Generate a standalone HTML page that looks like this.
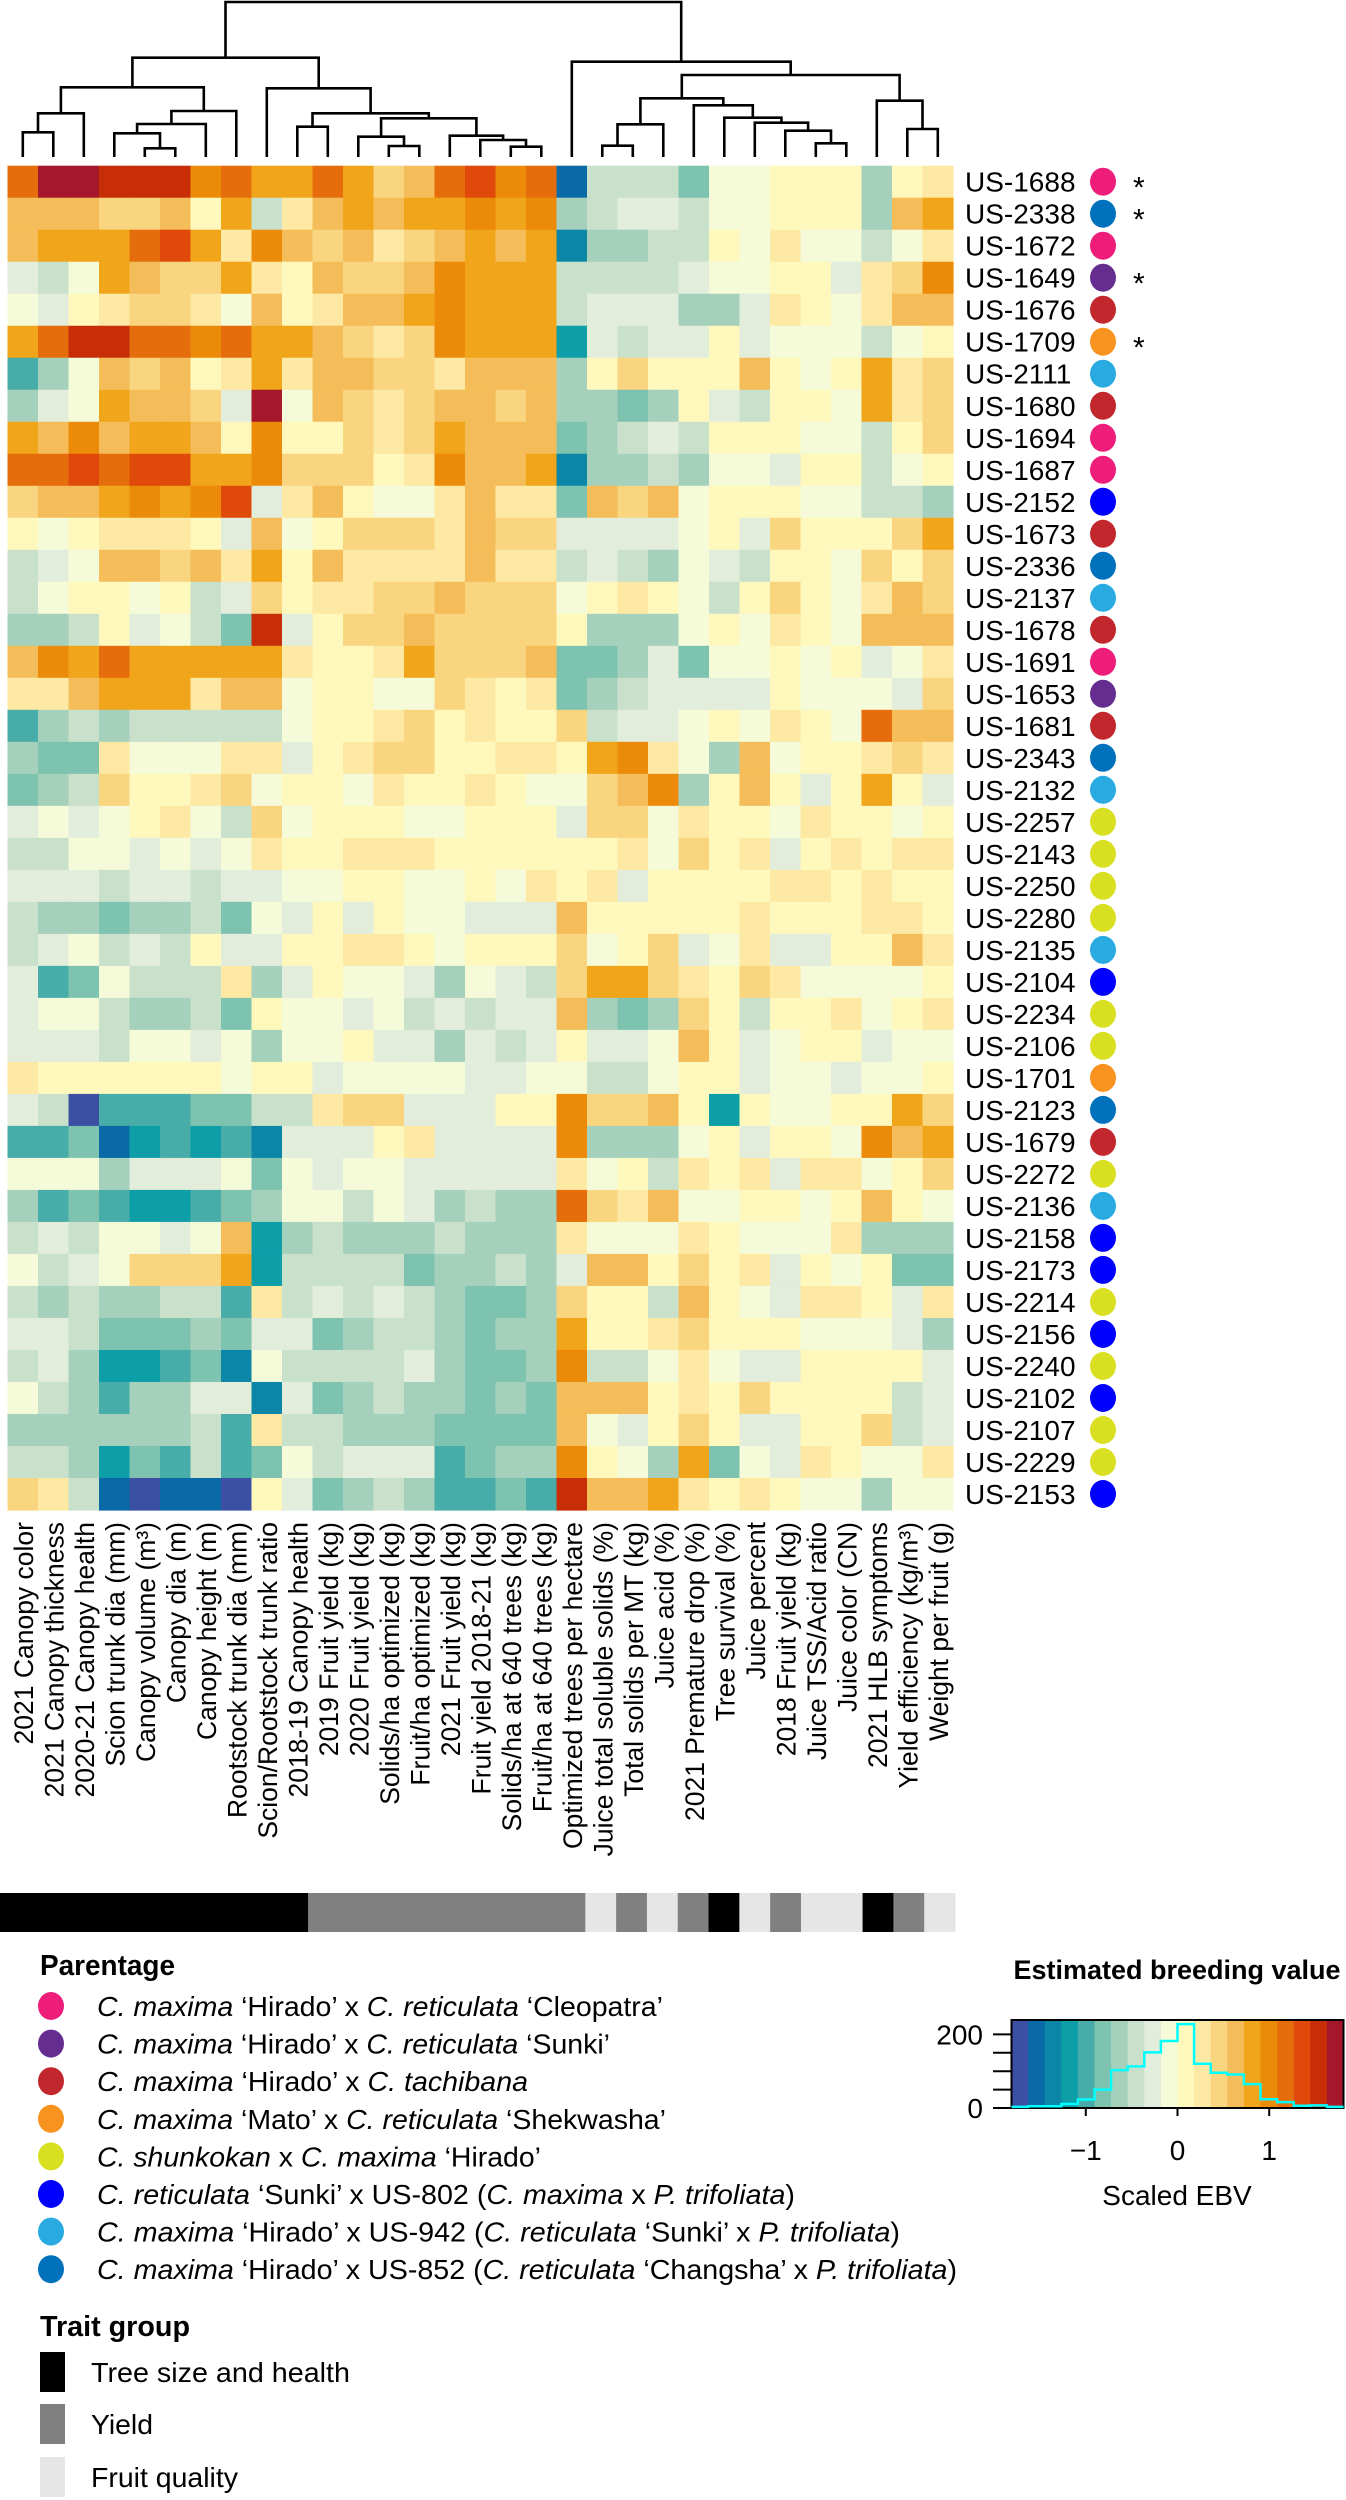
<!DOCTYPE html>
<html>
<head>
<meta charset="utf-8">
<style>
  html,body{margin:0;padding:0;background:#fff;}
  svg{display:block;font-family:"Liberation Sans",Arial,sans-serif;}
</style>
</head>
<body>
<svg id="fig" width="1346" height="2500" viewBox="0 0 1346 2500" xmlns="http://www.w3.org/2000/svg">
  <g id="dendro"></g>
  <g id="heat"></g>
  <g id="rowlabels"></g>
  <g id="collabels"></g>
  <g id="traitbar"></g>
  <g id="legend"></g>
  <g id="traitlegend"></g>
  <g id="key"></g>
</svg>
<script>
const traits = ["2021 Canopy color","2021 Canopy thickness","2020-21 Canopy health","Scion trunk dia (mm)","Canopy volume (m³)","Canopy dia (m)","Canopy height (m)","Rootstock trunk dia (mm)","Scion/Rootstock trunk ratio","2018-19 Canopy health","2019 Fruit yield (kg)","2020 Fruit yield (kg)","Solids/ha optimized (kg)","Fruit/ha optimized (kg)","2021 Fruit yield (kg)","Fruit yield 2018-21 (kg)","Solids/ha at 640 trees (kg)","Fruit/ha at 640 trees (kg)","Optimized trees per hectare","Juice total soluble solids (%)","Total solids per MT (kg)","Juice acid (%)","2021 Premature drop (%)","Tree survival (%)","Juice percent","2018 Fruit yield (kg)","Juice TSS/Acid ratio","Juice color (CN)","2021 HLB symptoms","Yield efficiency (kg/m³)","Weight per fruit (g)"];
const traitGroup = [0,0,0,0,0,0,0,0,0,0,1,1,1,1,1,1,1,1,1,2,1,2,1,0,2,1,2,2,0,1,2];
const genotypes = ["US-1688","US-2338","US-1672","US-1649","US-1676","US-1709","US-2111","US-1680","US-1694","US-1687","US-2152","US-1673","US-2336","US-2137","US-1678","US-1691","US-1653","US-1681","US-2343","US-2132","US-2257","US-2143","US-2250","US-2280","US-2135","US-2104","US-2234","US-2106","US-1701","US-2123","US-1679","US-2272","US-2136","US-2158","US-2173","US-2214","US-2156","US-2240","US-2102","US-2107","US-2229","US-2153"];
const parentage = [0,7,0,1,2,3,6,2,0,0,5,2,7,6,2,0,1,2,7,6,4,4,4,4,6,5,4,4,3,7,2,4,6,5,5,4,5,4,5,4,4,5];
const starred = ["US-1688","US-2338","US-1649","US-1709"];
const ebv = [
[1.18,1.72,1.72,1.54,1.54,1.54,1.00,1.18,0.82,0.82,1.18,0.82,0.45,0.63,1.18,1.36,1.00,1.18,-1.54,-0.45,-0.45,-0.45,-0.82,-0.09,-0.09,0.09,0.09,0.09,-0.63,0.09,0.27],
[0.63,0.63,0.63,0.45,0.45,0.63,0.09,0.82,-0.45,0.27,0.63,0.82,0.63,0.82,0.82,1.00,0.82,1.00,-0.63,-0.45,-0.27,-0.27,-0.45,-0.09,-0.09,0.09,0.09,0.09,-0.63,0.63,0.82],
[0.63,0.82,0.82,0.82,1.18,1.36,0.82,0.27,1.00,0.63,0.45,0.63,0.27,0.45,0.63,0.82,0.63,0.82,-1.36,-0.63,-0.63,-0.45,-0.45,0.09,-0.09,0.27,-0.09,-0.09,-0.45,-0.09,0.27],
[-0.27,-0.45,-0.09,0.82,0.63,0.45,0.45,0.82,0.27,0.09,0.63,0.45,0.45,0.63,1.00,0.82,0.82,0.82,-0.45,-0.45,-0.45,-0.45,-0.27,-0.09,-0.09,0.09,0.09,-0.27,0.27,0.45,1.00],
[-0.09,-0.27,0.09,0.27,0.45,0.45,0.27,-0.09,0.63,0.09,0.27,0.63,0.63,0.82,1.00,0.82,0.82,0.82,-0.45,-0.27,-0.27,-0.27,-0.63,-0.63,-0.27,0.27,0.09,-0.09,0.27,0.63,0.63],
[0.82,1.18,1.54,1.54,1.18,1.18,1.00,1.18,0.82,0.82,0.63,0.45,0.27,0.45,1.00,0.82,0.82,0.82,-1.18,-0.27,-0.45,-0.27,-0.27,0.09,-0.27,-0.09,-0.09,-0.09,-0.45,-0.09,0.09],
[-1.00,-0.63,-0.09,0.63,0.45,0.63,0.09,0.27,0.82,0.27,0.63,0.63,0.45,0.45,0.27,0.63,0.63,0.63,-0.63,0.09,0.45,0.09,0.09,0.09,0.63,0.09,-0.09,0.09,0.82,0.27,0.45],
[-0.63,-0.27,-0.09,0.82,0.63,0.63,0.45,-0.27,1.72,-0.09,0.63,0.45,0.27,0.45,0.63,0.63,0.45,0.63,-0.63,-0.63,-0.82,-0.63,0.09,-0.27,-0.45,0.09,0.09,-0.09,0.82,0.27,0.45],
[0.82,0.63,1.00,0.63,0.82,0.82,0.63,0.09,1.00,0.09,0.09,0.45,0.27,0.45,0.82,0.63,0.63,0.63,-0.82,-0.63,-0.45,-0.27,-0.45,0.09,0.09,0.09,-0.09,-0.09,-0.45,0.09,0.45],
[1.18,1.18,1.36,1.18,1.36,1.36,0.82,0.82,1.00,0.45,0.45,0.45,0.09,0.27,1.00,0.63,0.63,0.82,-1.36,-0.63,-0.63,-0.45,-0.63,-0.09,-0.09,-0.27,0.09,0.09,-0.45,-0.09,0.09],
[0.45,0.63,0.63,0.82,1.00,0.82,1.00,1.36,-0.27,0.27,0.63,0.09,-0.09,-0.09,0.27,0.63,0.27,0.27,-0.82,0.63,0.45,0.63,-0.09,0.09,0.09,0.09,-0.09,-0.09,-0.45,-0.45,-0.63],
[0.09,-0.09,0.09,0.27,0.27,0.27,0.09,-0.27,0.63,-0.09,0.09,0.45,0.45,0.45,0.27,0.63,0.45,0.45,-0.27,-0.27,-0.27,-0.27,-0.09,0.09,-0.27,0.45,0.09,0.09,0.09,0.45,0.82],
[-0.45,-0.27,-0.09,0.63,0.63,0.45,0.63,0.27,0.82,0.09,0.63,0.27,0.27,0.27,0.27,0.63,0.27,0.27,-0.45,-0.27,-0.45,-0.63,-0.09,-0.27,-0.45,0.09,0.09,-0.09,0.45,0.09,0.45],
[-0.45,-0.09,0.09,0.09,-0.09,0.09,-0.45,-0.27,0.45,0.09,0.27,0.27,0.45,0.45,0.63,0.45,0.45,0.45,-0.09,0.09,0.27,0.09,-0.09,-0.45,0.09,0.45,0.09,-0.09,0.27,0.63,0.45],
[-0.63,-0.63,-0.45,0.09,-0.27,-0.09,-0.45,-0.82,1.54,-0.27,0.09,0.45,0.45,0.63,0.45,0.45,0.45,0.45,0.09,-0.63,-0.63,-0.63,-0.09,0.09,-0.09,0.27,0.09,-0.09,0.63,0.63,0.63],
[0.63,1.00,0.82,1.18,0.82,0.82,0.82,0.82,0.82,0.27,0.09,0.09,0.27,0.82,0.45,0.45,0.45,0.63,-0.82,-0.82,-0.63,-0.27,-0.82,-0.09,-0.09,0.09,-0.09,0.09,-0.27,-0.09,0.27],
[0.27,0.27,0.63,0.82,0.82,0.82,0.27,0.63,0.63,-0.09,0.09,0.09,-0.09,-0.09,0.45,0.27,0.09,0.27,-0.82,-0.63,-0.45,-0.27,-0.27,-0.27,-0.27,0.09,-0.09,-0.09,-0.09,-0.27,0.45],
[-1.00,-0.63,-0.45,-0.63,-0.45,-0.45,-0.45,-0.45,-0.45,-0.09,0.09,0.09,0.27,0.45,0.09,0.27,0.09,0.09,0.45,-0.45,-0.27,-0.27,-0.09,0.09,-0.09,0.27,0.09,-0.09,1.18,0.63,0.63],
[-0.63,-0.82,-0.82,0.27,-0.09,-0.09,-0.09,0.27,0.27,-0.27,0.09,0.27,0.45,0.45,0.09,0.09,0.27,0.27,0.09,0.82,1.00,0.27,-0.09,-0.63,0.63,-0.09,0.09,0.09,0.27,0.45,0.27],
[-0.82,-0.63,-0.45,0.45,0.09,0.09,0.27,0.45,-0.09,0.09,0.09,-0.09,0.27,0.09,0.09,0.27,0.09,-0.09,-0.09,0.45,0.63,1.00,-0.63,0.09,0.63,0.09,-0.27,0.09,0.82,0.09,-0.27],
[-0.27,-0.09,-0.27,-0.09,0.09,0.27,-0.09,-0.45,0.45,-0.09,0.09,0.09,0.09,-0.09,-0.09,0.09,0.09,0.09,-0.27,0.45,0.45,-0.09,0.27,0.09,0.09,-0.09,0.27,0.09,0.09,-0.09,0.09],
[-0.45,-0.45,-0.09,-0.09,-0.27,-0.09,-0.27,-0.09,0.27,0.09,0.09,0.27,0.27,0.27,0.09,0.09,0.09,0.09,0.09,0.09,0.27,-0.09,0.45,0.09,0.27,-0.27,0.09,0.27,0.09,0.27,0.27],
[-0.27,-0.27,-0.27,-0.45,-0.27,-0.27,-0.45,-0.27,-0.27,-0.09,-0.09,0.09,0.09,-0.09,-0.09,0.09,-0.09,0.27,0.09,0.27,-0.27,0.09,0.09,0.09,0.09,0.27,0.27,0.09,0.27,0.09,0.09],
[-0.45,-0.63,-0.63,-0.82,-0.63,-0.63,-0.45,-0.82,-0.09,-0.27,0.09,-0.27,0.09,-0.09,-0.09,-0.27,-0.27,-0.27,0.63,0.09,0.09,0.09,0.09,0.09,0.27,0.09,0.09,0.09,0.27,0.27,0.09],
[-0.45,-0.27,-0.09,-0.45,-0.27,-0.45,0.09,-0.27,-0.27,0.09,0.09,0.27,0.27,0.09,-0.09,0.09,0.09,0.09,0.45,-0.09,0.09,0.45,-0.27,-0.09,0.27,-0.27,-0.27,0.09,0.09,0.63,0.27],
[-0.27,-1.00,-0.82,-0.09,-0.45,-0.45,-0.45,0.27,-0.63,-0.27,0.09,-0.09,-0.09,-0.27,-0.63,-0.09,-0.27,-0.45,0.45,0.82,0.82,0.45,0.27,0.09,0.45,0.27,-0.09,-0.09,-0.09,-0.09,0.09],
[-0.27,-0.09,-0.09,-0.45,-0.63,-0.63,-0.45,-0.82,0.09,-0.09,-0.09,-0.27,-0.09,-0.45,-0.27,-0.45,-0.27,-0.27,0.63,-0.63,-0.82,-0.63,0.45,0.09,-0.45,0.09,0.09,0.27,-0.09,0.09,0.27],
[-0.27,-0.27,-0.27,-0.45,-0.09,-0.09,-0.27,-0.09,-0.63,-0.09,-0.09,0.09,-0.27,-0.27,-0.63,-0.27,-0.45,-0.27,0.09,-0.27,-0.27,-0.09,0.63,0.09,-0.27,-0.09,0.09,0.09,-0.27,-0.09,-0.09],
[0.27,0.09,0.09,0.09,0.09,0.09,0.09,-0.09,0.09,0.09,-0.27,-0.09,-0.09,-0.09,-0.09,-0.27,-0.27,-0.09,-0.09,-0.45,-0.45,-0.09,0.09,0.09,-0.27,-0.09,-0.09,-0.27,-0.09,-0.09,0.09],
[-0.27,-0.45,-1.72,-1.00,-1.00,-1.00,-0.82,-0.82,-0.45,-0.45,0.27,0.45,0.45,-0.27,-0.27,-0.27,0.09,0.09,1.00,0.45,0.45,0.63,0.09,-1.18,0.09,-0.09,-0.09,0.09,0.09,0.82,0.45],
[-1.00,-1.00,-0.82,-1.54,-1.18,-1.00,-1.18,-1.00,-1.36,-0.27,-0.27,-0.27,0.09,0.27,-0.27,-0.27,-0.27,-0.27,1.00,-0.63,-0.63,-0.63,-0.09,0.09,-0.27,0.09,0.09,-0.09,1.00,0.63,0.82],
[-0.09,-0.09,-0.09,-0.63,-0.27,-0.27,-0.27,-0.09,-0.82,-0.09,-0.27,-0.09,-0.09,-0.27,-0.27,-0.27,-0.27,-0.27,0.27,-0.09,0.09,-0.45,0.27,0.09,0.27,-0.27,0.27,0.27,-0.09,0.09,0.45],
[-0.63,-1.00,-0.82,-1.00,-1.18,-1.18,-1.00,-0.82,-0.63,-0.09,-0.09,-0.45,-0.09,-0.27,-0.63,-0.45,-0.63,-0.63,1.18,0.45,0.27,0.63,-0.09,-0.09,0.09,0.09,-0.09,0.09,0.63,0.09,-0.09],
[-0.45,-0.27,-0.45,-0.09,-0.09,-0.27,-0.09,0.63,-1.18,-0.63,-0.45,-0.63,-0.63,-0.63,-0.45,-0.63,-0.63,-0.63,0.27,-0.09,-0.09,-0.09,0.27,0.09,-0.09,-0.09,-0.09,0.27,-0.63,-0.63,-0.63],
[-0.09,-0.45,-0.27,-0.09,0.45,0.45,0.45,0.82,-1.18,-0.45,-0.45,-0.45,-0.45,-0.82,-0.63,-0.63,-0.45,-0.63,-0.27,0.63,0.63,0.09,0.45,0.09,0.27,-0.27,0.09,-0.09,0.09,-0.82,-0.82],
[-0.45,-0.63,-0.45,-0.63,-0.63,-0.45,-0.45,-1.00,0.27,-0.45,-0.27,-0.45,-0.27,-0.45,-0.63,-0.82,-0.82,-0.63,0.45,0.09,0.09,-0.45,0.63,0.09,-0.09,-0.27,0.27,0.27,0.09,-0.27,0.27],
[-0.27,-0.27,-0.45,-0.82,-0.82,-0.82,-0.63,-0.82,-0.27,-0.27,-0.82,-0.63,-0.45,-0.45,-0.63,-0.82,-0.63,-0.63,0.82,0.09,0.09,0.27,0.45,0.09,0.09,0.09,-0.09,-0.09,-0.09,-0.27,-0.63],
[-0.45,-0.27,-0.63,-1.18,-1.18,-1.00,-0.82,-1.36,-0.09,-0.45,-0.45,-0.45,-0.45,-0.27,-0.63,-0.82,-0.82,-0.63,1.00,-0.45,-0.45,-0.09,0.27,-0.09,-0.27,-0.27,0.09,0.09,0.09,0.09,-0.27],
[-0.09,-0.45,-0.63,-1.00,-0.63,-0.63,-0.27,-0.27,-1.36,-0.27,-0.82,-0.63,-0.45,-0.63,-0.63,-0.82,-0.63,-0.82,0.63,0.63,0.63,0.09,0.27,0.09,0.45,0.09,0.09,0.09,0.09,-0.45,-0.27],
[-0.63,-0.63,-0.63,-0.63,-0.63,-0.63,-0.45,-1.00,0.27,-0.45,-0.45,-0.63,-0.63,-0.63,-0.82,-0.82,-0.82,-0.82,0.63,-0.09,-0.27,0.09,0.45,0.09,-0.27,-0.27,0.09,0.09,0.45,-0.45,-0.27],
[-0.45,-0.45,-0.63,-1.18,-0.82,-1.00,-0.45,-1.00,-0.82,-0.09,-0.45,-0.27,-0.27,-0.27,-1.00,-0.82,-0.63,-0.63,1.00,0.09,-0.09,-0.63,0.82,-0.82,-0.09,-0.27,0.27,0.09,-0.09,-0.09,0.27],
[0.45,0.27,-0.45,-1.54,-1.72,-1.54,-1.54,-1.72,0.09,-0.27,-0.82,-0.63,-0.45,-0.63,-1.00,-1.00,-0.82,-1.00,1.54,0.63,0.63,0.82,0.27,0.09,0.27,0.09,-0.09,-0.09,-0.63,-0.09,-0.09]
];
// dendrogram: [height, left, right]; leaves are column indices
const dendroTree = [2,
  [57.7,
    [87.3, [113.3, [132.3,0,1], 2], [111, [124, [133.3, 3, [148.3,4,5]], 6], 7]],
    [88.3, 8, [113.3, [126.7,9,10], [118.3, [136.7, 11, [146,12,13]], [135.7, 14, [140, 15, [146.7,16,17]]]]]]
  ],
  [61.7, 18,
    [75, [98.3, [124.3, [145.7,19,20], 21], [105.3, 22, [117.7, 23, [122.7, 24, [130.7, 25, [143.3,26,27]]]]]],
         [100.7, 28, [129,29,30]]]
  ]
];
const parentNames = [
  [["C. maxima",1],[" ‘Hirado’ x ",0],["C. reticulata",1],[" ‘Cleopatra’",0]],
  [["C. maxima",1],[" ‘Hirado’ x ",0],["C. reticulata",1],[" ‘Sunki’",0]],
  [["C. maxima",1],[" ‘Hirado’ x ",0],["C. tachibana",1]],
  [["C. maxima",1],[" ‘Mato’ x ",0],["C. reticulata",1],[" ‘Shekwasha’",0]],
  [["C. shunkokan",1],[" x ",0],["C. maxima",1],[" ‘Hirado’",0]],
  [["C. reticulata",1],[" ‘Sunki’ x US-802 (",0],["C. maxima",1],[" x ",0],["P. trifoliata",1],[")",0]],
  [["C. maxima",1],[" ‘Hirado’ x US-942 (",0],["C. reticulata",1],[" ‘Sunki’ x ",0],["P. trifoliata",1],[")",0]],
  [["C. maxima",1],[" ‘Hirado’ x US-852 (",0],["C. reticulata",1],[" ‘Changsha’ x ",0],["P. trifoliata",1],[")",0]]
];
const parentLenPx = [566,513,431,569,444,698,803,860];
const parentColors = ["#ee1d7a","#662d91","#c1272d","#f7931e","#d9e021","#0000ff","#29abe2","#0071bc"];
const groupNames = ["Tree size and health","Yield","Fruit quality"];
const groupColors = ["#000000","#808080","#e6e6e6"];
const keyTicks = [-1,0,1];
const countTicks = [0,50,100,150,200];
const palette = ["#3b4fa3","#0a6aa8","#0b86a6","#0d9ea8","#48ada8","#7ec3b0","#a5d1bc","#c9e1cb","#e3eddb","#f5fad8","#fef8bd","#fde9a3","#f9d580","#f4bd59","#f1a51b","#ec8b0a","#e66d0b","#df4a0a","#c72e08","#a5182b"];

const NS = "http://www.w3.org/2000/svg";
function mk(tag, attrs, parent){ const e=document.createElementNS(NS,tag); for(const k in attrs) e.setAttribute(k,attrs[k]); parent.appendChild(e); return e; }

const vMin=-1.81, vMax=1.81, nBins=20, binW=(vMax-vMin)/nBins;
function binOf(v){ let b=Math.floor((v-vMin)/binW); return Math.max(0,Math.min(nBins-1,b)); }
function colorOf(v){ return palette[binOf(v)]; }

const hx0=7.5, hx1=953, hy0=165.7, hy1=1510;
const cw=(hx1-hx0)/traits.length, rh=(hy1-hy0)/genotypes.length;
const xCol=i=>hx0+i*cw, yRow=j=>hy0+j*rh;

const heat=document.getElementById('heat');
ebv.forEach((row,j)=>row.forEach((v,i)=>{
  const r=mk('rect',{x:xCol(i).toFixed(2),y:yRow(j).toFixed(2),width:(cw+0.6).toFixed(2),height:(rh+0.6).toFixed(2),fill:colorOf(v)},heat);
  
  
}));

const rl=document.getElementById('rowlabels');
genotypes.forEach((g,j)=>{
  const cy=yRow(j)+rh/2;
  const t=mk('text',{x:965,y:(cy+10).toFixed(1),'font-size':28,fill:'#000'},rl);
  t.textContent=g;
  
  
  const c=mk('ellipse',{cx:1103,cy:cy.toFixed(1),rx:13,ry:14,fill:parentColors[parentage[j]]},rl);
  
  
  if(starred.includes(g)){
    const s=mk('text',{x:1133,y:(cy+16).toFixed(1),'font-size':30,fill:'#000'},rl);
    s.textContent='*';
    
    
  }
});

const cl=document.getElementById('collabels');
traits.forEach((tr,i)=>{
  const cx=xCol(i)+cw/2+10, y=1522;
  const t=mk('text',{x:0,y:0,'font-size':26.5,fill:'#000','text-anchor':'end',transform:`translate(${cx.toFixed(1)},${y}) rotate(-90)`},cl);
  t.textContent=tr;
  
  
});

const tb=document.getElementById('traitbar');
const bw=955/traits.length;
traitGroup.forEach((g,i)=>{
  const r=mk('rect',{x:(i*bw).toFixed(2),y:1893,width:(bw+0.5).toFixed(2),height:39,fill:groupColors[g]},tb);
  
  
});

const dg=document.getElementById('dendro');
const leafY=157;
function drawNode(n){
  if(typeof n==='number') return {x:xCol(n)+cw/2, y:leafY};
  const [h,l,r]=n; const a=drawNode(l), b=drawNode(r);
  const p=mk('path',{d:`M${a.x.toFixed(1)},${a.y.toFixed(1)}V${h}H${b.x.toFixed(1)}V${b.y.toFixed(1)}`,fill:'none',stroke:'#000','stroke-width':2.6},dg);
  
  
  return {x:(a.x+b.x)/2, y:h};
}
drawNode(dendroTree);

const lg=document.getElementById('legend');
const lt=mk('text',{x:40,y:1975,'font-size':29,'font-weight':'bold',fill:'#000',textLength:135,lengthAdjust:'spacingAndGlyphs'},lg);
lt.textContent='Parentage';


parentNames.forEach((parts,k)=>{
  const cy=2006+k*37.6;
  const c=mk('ellipse',{cx:51,cy:cy.toFixed(1),rx:13,ry:14,fill:parentColors[k]},lg);
  
  
  const t=mk('text',{x:97,y:(cy+10).toFixed(1),'font-size':28,fill:'#000',textLength:parentLenPx[k],lengthAdjust:'spacingAndGlyphs'},lg);
  
  
  parts.forEach(([s,it])=>{ const ts=mk('tspan',it?{'font-style':'italic'}:{},t); ts.textContent=s; });
});

const tl=document.getElementById('traitlegend');
const tt=mk('text',{x:40,y:2336,'font-size':29,'font-weight':'bold',fill:'#000',textLength:150,lengthAdjust:'spacingAndGlyphs'},tl);
tt.textContent='Trait group';


const glen=[259,62,147];
groupNames.forEach((g,k)=>{
  const y0=[2352,2404,2457][k];
  const r=mk('rect',{x:40,y:y0,width:25,height:40,fill:groupColors[k]},tl);
  
  
  const t=mk('text',{x:91,y:y0+30,'font-size':28,fill:'#000',textLength:glen[k],lengthAdjust:'spacingAndGlyphs'},tl);
  t.textContent=g;
  
  
});

const kg=document.getElementById('key');
const kx0=1011.5, kx1=1343.5, ky0=2020, ky1=2108;
const kX=v=>kx0+(v-vMin)/(vMax-vMin)*(kx1-kx0);
const kY=c=>ky1-c*0.368;
const kt=mk('text',{x:1177,y:1979,'font-size':27,'font-weight':'bold','text-anchor':'middle',fill:'#000'},kg);
kt.textContent='Estimated breeding value';


palette.forEach((col,b)=>{
  const r=mk('rect',{x:kX(vMin+b*binW).toFixed(2),y:ky0,width:(kX(vMin+binW)-kx0+0.4).toFixed(2),height:ky1-ky0,fill:col},kg);
  
  
});
const box=mk('rect',{x:kx0,y:ky0,width:kx1-kx0,height:ky1-ky0,fill:'none',stroke:'#000','stroke-width':2},kg);


const counts=new Array(nBins).fill(0);
ebv.forEach(row=>row.forEach(v=>counts[binOf(v)]++));
let d=`M${kX(vMin).toFixed(1)},${kY(counts[0]).toFixed(1)}`;
counts.forEach((c,b)=>{ d+=`H${kX(vMin+(b+1)*binW).toFixed(1)}`; if(b<nBins-1) d+=`V${kY(counts[b+1]).toFixed(1)}`; });
const hp=mk('path',{d:d,fill:'none',stroke:'#00ffff','stroke-width':2.5},kg);


countTicks.forEach(c=>{
  const l=mk('line',{x1:993,x2:kx0,y1:kY(c),y2:kY(c),stroke:'#000','stroke-width':2},kg);
  
  
  if(c===0||c===200){
    const t=mk('text',{x:983,y:kY(c)+10,'font-size':28,'text-anchor':'end',fill:'#000'},kg);
    t.textContent=String(c);
    
    
  }
});
const ax=mk('line',{x1:kX(-1),x2:kX(1),y1:ky1,y2:ky1,stroke:'#000','stroke-width':2},kg);


keyTicks.forEach(v=>{
  const l=mk('line',{x1:kX(v),x2:kX(v),y1:ky1,y2:ky1+8,stroke:'#000','stroke-width':2},kg);
  
  
  const t=mk('text',{x:kX(v),y:2160,'font-size':28,'text-anchor':'middle',fill:'#000'},kg);
  t.textContent=v<0?'\u2212'+Math.abs(v):String(v);
  
  
});
const xt=mk('text',{x:1177,y:2205,'font-size':28,'text-anchor':'middle',fill:'#000'},kg);
xt.textContent='Scaled EBV';


</script>
</body>
</html>
